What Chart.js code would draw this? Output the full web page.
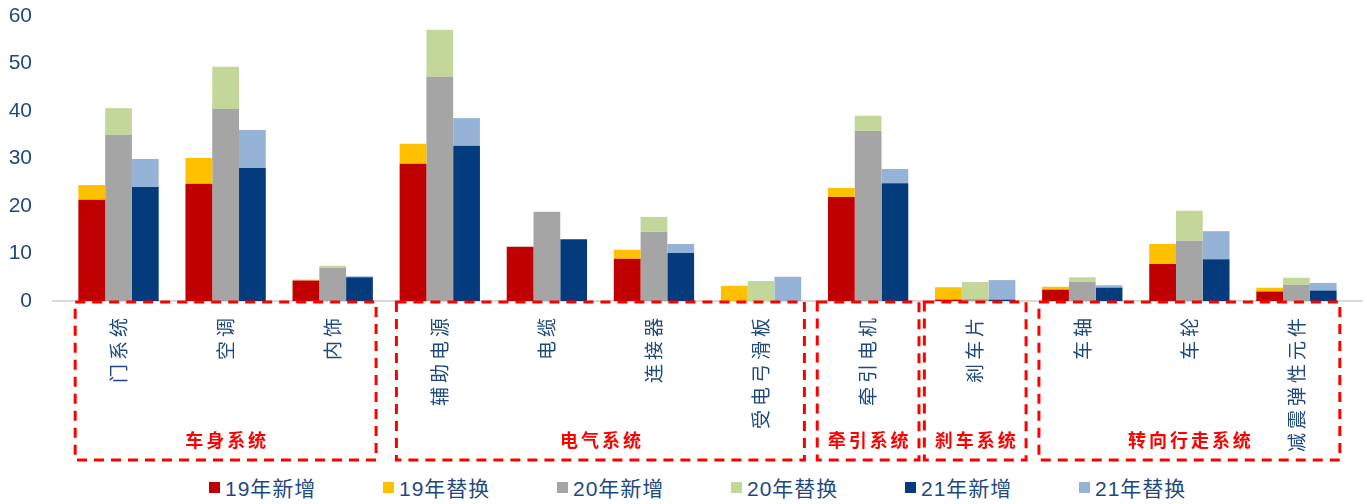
<!DOCTYPE html>
<html>
<head>
<meta charset="utf-8">
<script src="https://cdn.jsdelivr.net/npm/chart.js@4"></script>
<style>
    body { margin: 0; background: #fff; }
    #wrap { position: relative; width: 1367px; height: 470px; }
    #legend {
        display: flex; height: 34px; align-items: center; padding-left: 209px;
        font-family: "Liberation Sans", "Noto Sans CJK SC", sans-serif;
        font-size: 21px; color: #1F497D; letter-spacing: 1px;
    }
    .legend-item { width: 174px; display: flex; align-items: center; white-space: nowrap; }
    .legend-box { width: 11px; height: 11px; margin-right: 5px; }
</style>
</head>
<body>
<div id="wrap"><canvas id="chart"></canvas></div>
<div id="legend"></div>
<script>
// categories and groups
const categories = ['门系统', '空调', '内饰', '辅助电源', '电缆', '连接器', '受电弓滑板', '牵引电机', '刹车片', '车轴', '车轮', '减震弹性元件'];
const groupNames = ['车身系统', '电气系统', '牵引系统', '刹车系统', '转向行走系统'];
const groupFirst = [0, 3, 7, 8, 9];
const groupLast = [2, 6, 7, 8, 11];

// series values (新增 = new demand, 替换 = replacement, stacked on top)
const new19 = [21.3, 24.7, 4.3, 28.9, 11.4, 8.9, 0, 21.9, 0.3, 2.4, 7.8, 2.0];
const rep19 = [3.1, 5.4, 0.2, 4.2, 0, 1.9, 3.2, 1.9, 2.6, 0.6, 4.2, 0.8];
const new20 = [35.0, 40.4, 7.0, 47.2, 18.8, 14.6, 0, 35.8, 0.4, 4.0, 12.7, 3.4];
const rep20 = [5.6, 8.9, 0.4, 9.9, 0, 3.1, 4.2, 3.2, 3.6, 1.0, 6.3, 1.5];
const new21 = [24.0, 28.0, 5.0, 32.7, 13.0, 10.1, 0, 24.8, 0.3, 2.8, 8.8, 2.2];
const rep21 = [5.9, 8.0, 0.2, 5.8, 0, 1.9, 5.1, 3.0, 4.1, 0.5, 5.9, 1.6];

const seriesNames = ['19年新增', '19年替换', '20年新增', '20年替换', '21年新增', '21年替换'];
const yTicks = [0, 10, 20, 30, 40, 50, 60];

const colors = ['#C00000', '#FFC000', '#A5A5A5', '#C4D79B', '#033B7C', '#95B3D7'];
const stacks = ['19', '19', '20', '20', '21', '21'];
const seriesData = [new19, rep19, new20, rep20, new21, rep21];
const textBlue = '#1F497D';

const datasets = seriesData.map((d, i) => ({
    label: seriesNames[i],
    data: d,
    stack: stacks[i],
    backgroundColor: colors[i],
    borderWidth: 0,
    categoryPercentage: 0.75,
    barPercentage: 1.0
}));

// axis line, category labels, dashed group boxes
const decorPlugin = {
    id: 'decor',
    beforeDatasetsDraw(chart) {
        const ctx = chart.ctx;
        const y0 = chart.scales.y.getPixelForValue(0);
        const area = chart.chartArea;
        ctx.save();
        ctx.strokeStyle = '#D9D9D9';
        ctx.lineWidth = 2;
        ctx.beginPath();
        ctx.moveTo(area.left - 13, y0);
        ctx.lineTo(area.right + 13, y0);
        ctx.stroke();
        ctx.restore();
    },
    afterDraw(chart) {
        const ctx = chart.ctx;
        const x = chart.scales.x;
        const y0 = chart.scales.y.getPixelForValue(0);
        const step = x.getPixelForValue(1) - x.getPixelForValue(0);

        // category labels, rotated, reading bottom to top
        ctx.save();
        ctx.font = '19px "Noto Sans CJK SC"';
        ctx.fillStyle = textBlue;
        ctx.letterSpacing = '4px';
        ctx.textAlign = 'right';
        ctx.textBaseline = 'middle';
        categories.forEach((c, i) => {
            ctx.save();
            ctx.translate(x.getPixelForValue(i), y0 + 17);
            ctx.rotate(-Math.PI / 2);
            ctx.fillText(c, 4, 0);
            ctx.restore();
        });
        ctx.restore();

        // dashed group boxes
        const top = y0 + 1;
        const bottom = y0 + 159;
        ctx.save();
        ctx.strokeStyle = '#FF0000';
        ctx.lineWidth = 3;
        ctx.setLineDash([10, 7]);
        groupNames.forEach((g, k) => {
            const single = groupFirst[k] === groupLast[k];
            const pad = single ? 0.475 * step : 0.405 * step;
            const left = x.getPixelForValue(groupFirst[k]) - pad;
            const right = x.getPixelForValue(groupLast[k]) + pad;
            ctx.strokeRect(left, top, right - left, bottom - top);

            ctx.save();
            ctx.setLineDash([]);
            ctx.font = 'bold 18px "Noto Sans CJK SC"';
            ctx.fillStyle = '#FF0000';
            ctx.letterSpacing = '3px';
            ctx.textAlign = 'center';
            ctx.textBaseline = 'middle';
            ctx.fillText(g, (left + right) / 2 + 1.5, y0 + 139);
            ctx.restore();
        });
        ctx.restore();
    }
};

new Chart(document.getElementById('chart'), {
    type: 'bar',
    data: { labels: categories, datasets },
    options: {
        responsive: true,
        maintainAspectRatio: false,
        animation: false,
        layout: { padding: { top: 16, right: 17, left: 0, bottom: 0 } },
        plugins: {
            legend: { display: false },
            tooltip: { enabled: false }
        },
        scales: {
            x: {
                stacked: true,
                grid: { display: false },
                border: { display: false },
                ticks: { display: false },
                afterFit: (scale) => { scale.height = 169; }
            },
            y: {
                stacked: true,
                min: 0,
                max: 60,
                afterBuildTicks: (scale) => { scale.ticks = yTicks.map(v => ({ value: v })); },
                grid: { display: false, drawTicks: false },
                border: { display: false },
                ticks: {
                    padding: 33,
                    color: textBlue,
                    font: { family: '"Liberation Sans", Arial, sans-serif', size: 21 }
                },
                afterFit: (scale) => {
                    scale.width = 65;
                    // tick padding is horizontal only here, keep it out of the top/bottom
                    scale.paddingTop = 0;
                    scale.paddingBottom = 0;
                }
            }
        }
    },
    plugins: [decorPlugin]
});

// legend built from the series
const legendEl = document.getElementById('legend');
seriesNames.forEach((name, i) => {
    const item = document.createElement('div');
    item.className = 'legend-item';
    item.innerHTML = `<span class="legend-box" style="background:${colors[i]}"></span><span>${name}</span>`;
    legendEl.appendChild(item);
});
</script>
</body>
</html>
